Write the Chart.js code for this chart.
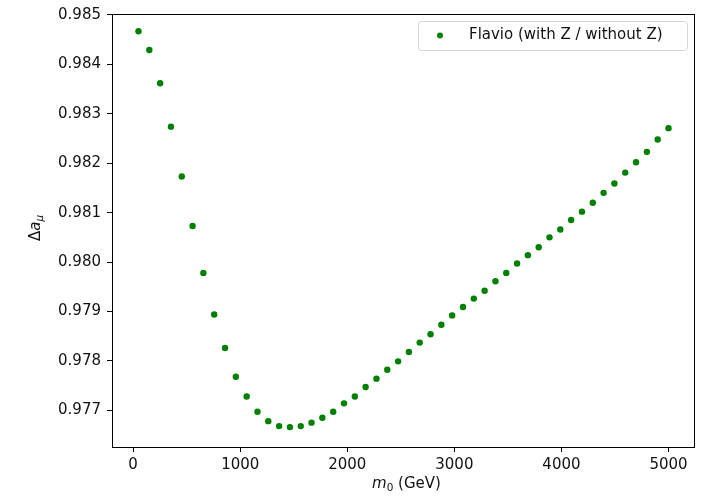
<!DOCTYPE html>
<html lang="en">
<head>
    <meta charset="UTF-8">
    <title>Flavio ratio vs m0</title>
    <script src="https://cdn.jsdelivr.net/npm/chart.js"></script>
    <style>
        body { margin: 0; background: #fff; }
        canvas { display: block; }
    </style>
</head>
<body>
    <canvas id="ratioChart" width="708" height="499"></canvas>
    <script>
        // m0 in GeV
        const massValues = [
            50.0, 151.0, 252.0, 353.1, 454.1, 555.1, 656.1, 757.1, 858.2, 959.2,
            1060.2, 1161.2, 1262.2, 1363.3, 1464.3, 1565.3, 1666.3, 1767.3, 1868.4, 1969.4,
            2070.4, 2171.4, 2272.4, 2373.5, 2474.5, 2575.5, 2676.5, 2777.6, 2878.6, 2979.6,
            3080.6, 3181.6, 3282.7, 3383.7, 3484.7, 3585.7, 3686.7, 3787.8, 3888.8, 3989.8,
            4090.8, 4191.8, 4292.9, 4393.9, 4494.9, 4595.9, 4696.9, 4798.0, 4899.0, 5000.0
        ];
        // Delta a_mu ratio (with Z / without Z)
        const ratioValues = [
            0.98467, 0.98429, 0.98362, 0.98274, 0.98173, 0.98073, 0.97978, 0.97894, 0.97826, 0.97768,
            0.97728, 0.97697, 0.97678, 0.97668, 0.97666, 0.97668, 0.97675, 0.97685, 0.97697, 0.97714,
            0.97728, 0.97747, 0.97764, 0.97782, 0.97799, 0.97818, 0.97837, 0.97854, 0.97873, 0.97892,
            0.97909, 0.97926, 0.97942, 0.97961, 0.97978, 0.97997, 0.98014, 0.98030, 0.98050, 0.98066,
            0.98085, 0.98102, 0.98120, 0.98140, 0.98159, 0.98181, 0.98202, 0.98223, 0.98248, 0.98271
        ];
        const xTicks = [0, 1000, 2000, 3000, 4000, 5000];
        const yTicks = [0.977, 0.978, 0.979, 0.980, 0.981, 0.982, 0.983, 0.984, 0.985];
        const seriesLabel = 'Flavio (with Z / without Z)';

        const FONT = 'DejaVu Sans';
        const tickFont = { family: FONT, size: 15 };

        // frame, axis labels with subscripts, and legend box
        const decorPlugin = {
            id: 'decor',
            afterDraw(chart) {
                const ctx = chart.ctx;
                const a = chart.chartArea;
                ctx.save();
                ctx.strokeStyle = '#000';
                ctx.lineWidth = 1;
                ctx.strokeRect(Math.round(a.left) + 0.5, Math.round(a.top) + 0.5,
                    Math.round(a.right - a.left) - 1, Math.round(a.bottom - a.top));

                ctx.fillStyle = '#111';
                ctx.textBaseline = 'alphabetic';
                ctx.textAlign = 'left';

                // x label: m_0 (GeV)
                const xParts = [
                    { t: 'm', f: 'italic 15px ' + FONT, dy: 0 },
                    { t: '0', f: '10.5px ' + FONT, dy: 3 },
                    { t: ' (GeV)', f: '15px ' + FONT, dy: 0 }
                ];
                drawParts(ctx, xParts, (a.left + a.right) / 2 + 3, 488);

                // y label: Delta a_mu, rotated
                ctx.save();
                ctx.translate(40, 228);
                ctx.rotate(-Math.PI / 2);
                const yParts = [
                    { t: '\u0394', f: '15px ' + FONT, dy: 0 },
                    { t: 'a', f: 'italic 15px ' + FONT, dy: 0 },
                    { t: '\u03bc', f: 'italic 10.5px ' + FONT, dy: 3 }
                ];
                drawParts(ctx, yParts, 0, 0);
                ctx.restore();

                // legend
                const lx = 418, ly = 21, lw = 269, lh = 29;
                ctx.beginPath();
                ctx.roundRect(lx + 0.5, ly + 0.5, lw, lh, 3);
                ctx.fillStyle = 'rgba(255,255,255,0.8)';
                ctx.fill();
                ctx.strokeStyle = '#d5d5d5';
                ctx.stroke();
                ctx.beginPath();
                ctx.arc(440, 35.5, 3, 0, Math.PI * 2);
                ctx.fillStyle = 'green';
                ctx.fill();
                ctx.fillStyle = '#111';
                ctx.font = '15px ' + FONT;
                ctx.textBaseline = 'middle';
                ctx.fillText(seriesLabel, 469, 35.5);
                ctx.restore();
            }
        };

        function drawParts(ctx, parts, cx, baseY) {
            let total = 0;
            parts.forEach(p => { ctx.font = p.f; total += ctx.measureText(p.t).width; });
            let x = cx - total / 2;
            parts.forEach(p => {
                ctx.font = p.f;
                ctx.fillText(p.t, x, baseY + p.dy);
                x += ctx.measureText(p.t).width;
            });
        }

        const ctx = document.getElementById('ratioChart').getContext('2d');
        new Chart(ctx, {
            type: 'scatter',
            data: {
                datasets: [{
                    label: seriesLabel,
                    data: massValues.map((m, i) => ({ x: m, y: ratioValues[i] })),
                    backgroundColor: 'green',
                    borderColor: 'green',
                    pointRadius: 3.2,
                    pointBorderWidth: 0
                }]
            },
            options: {
                responsive: false,
                animation: false,
                layout: { padding: { top: 14, right: 13, left: 0, bottom: 0 } },
                plugins: {
                    legend: { display: false },
                    tooltip: { enabled: false }
                },
                scales: {
                    x: {
                        type: 'linear',
                        min: -197.5,
                        max: 5247.5,
                        afterBuildTicks: s => { s.ticks = xTicks.map(v => ({ value: v })); },
                        afterFit: s => { s.height = 52; s.paddingLeft = 0; s.paddingRight = 0; },
                        ticks: {
                            font: tickFont,
                            color: '#111',
                            padding: 4,
                            maxRotation: 0,
                            autoSkip: false,
                            callback: v => String(v)
                        },
                        grid: { drawOnChartArea: false, tickLength: 5, tickColor: '#000' },
                        border: { display: false }
                    },
                    y: {
                        type: 'linear',
                        min: 0.976257,
                        max: 0.98502,
                        afterBuildTicks: s => { s.ticks = yTicks.map(v => ({ value: v })); },
                        afterFit: s => { s.width = 112; s.paddingTop = 0; s.paddingBottom = 0; },
                        ticks: {
                            font: tickFont,
                            color: '#111',
                            padding: 6,
                            autoSkip: false,
                            callback: v => v.toFixed(3)
                        },
                        grid: { drawOnChartArea: false, tickLength: 5, tickColor: '#000' },
                        border: { display: false }
                    }
                }
            },
            plugins: [decorPlugin]
        });
    </script>
</body>
</html>
